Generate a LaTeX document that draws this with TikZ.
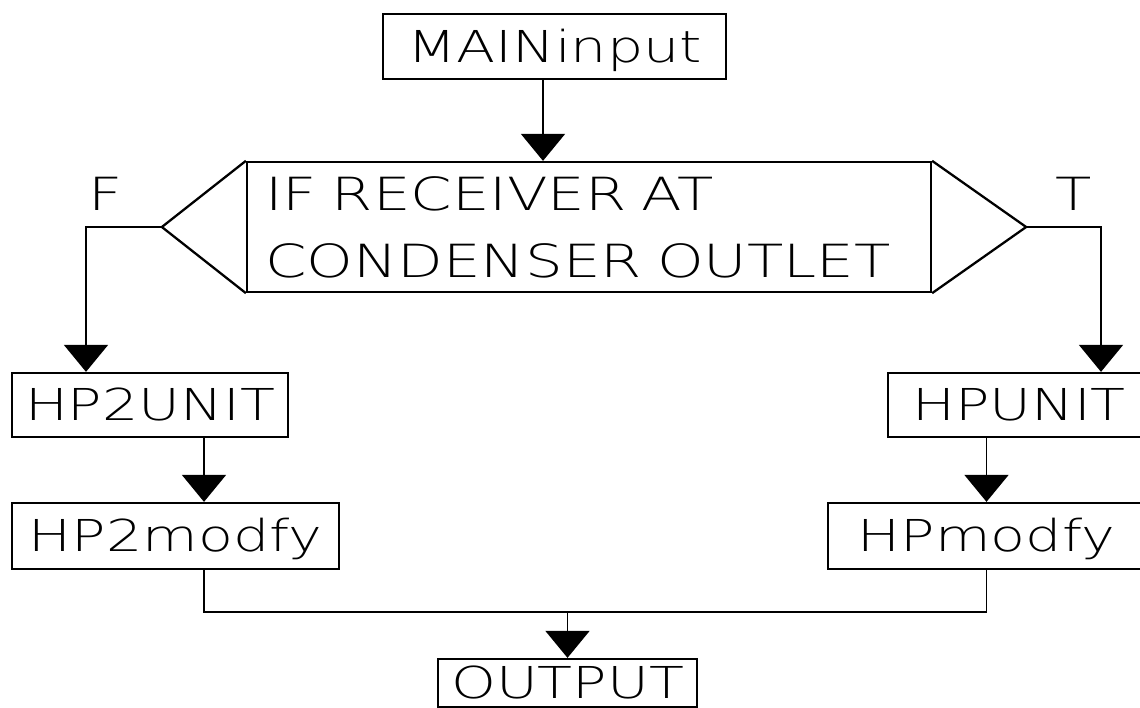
\documentclass[tikz,border=0pt]{standalone}
\usepackage{fontspec}
\setmainfont{DejaVuSans-ExtraLight.ttf}[FakeStretch=1.3]
\usetikzlibrary{arrows.meta, positioning, calc}

\begin{document}
\begin{tikzpicture}[
    block/.style={rectangle, draw, line width=1.3pt, inner sep=0pt, text height=18pt, text depth=0pt, font=\fontsize{25}{30}\selectfont},
    test/.style={rectangle, draw, line width=1.3pt, inner xsep=0.36cm, inner ysep=0pt, text width=12.96cm, minimum height=2.6cm, align=left, font=\fontsize{26}{38}\selectfont},
    arrow/.style={-{Triangle[width=0.88cm, length=0.54cm]}, line width=1pt},
    branch/.style={font=\fontsize{26}{30}\selectfont},
]
\useasboundingbox (0,0) rectangle (22.8,-14.14);

\node[block, minimum width=6.86cm, minimum height=1.3cm] (main) at (11.09, -0.93) {MAINinput};
\node[test] (cond) at (11.78, -4.54) {IF RECEIVER AT\\CONDENSER OUTLET};
\coordinate (ftip) at ([xshift=-1.68cm]cond.west);
\coordinate (ttip) at ([xshift=1.88cm]cond.east);
\draw[line width=1.3pt] (cond.north west) -- (ftip) -- (cond.south west);
\draw[line width=1.3pt] (cond.north east) -- (ttip) -- (cond.south east);
\node[branch] (fl) at (2.12, -3.87) {F};
\node[branch] (tl) at (21.48, -3.87) {T};

\node[block, minimum width=5.52cm, minimum height=1.28cm] (hp2unit) at (3.0, -8.10) {HP2UNIT};
\node[block, minimum width=6.54cm, minimum height=1.32cm] (hp2mod) at (3.51, -10.72) {HP2modfy};
\node[block, minimum width=5.24cm, minimum height=1.28cm] (hpunit) at (20.38, -8.10) {HPUNIT};
\node[block, minimum width=6.34cm, minimum height=1.32cm] (hpmod) at (19.73, -10.72) {HPmodfy};
\node[block, minimum width=5.18cm, minimum height=0.96cm] (output) at (11.35, -13.66) {OUTPUT};

\draw[arrow] ([xshift=-0.23cm]main.south) -- ([xshift=-0.23cm]main.south |- cond.north);
\draw[arrow] (ftip) -| ([xshift=-1.28cm]hp2unit.north);
\draw[arrow] (ttip) -| ([xshift=1.64cm]hpunit.north);
\draw[arrow] ([xshift=1.08cm]hp2unit.south) -- ([xshift=1.08cm]hp2unit.south |- hp2mod.north);
\draw[arrow] (hpunit.south -| hpmod.north) -- (hpmod.north);
\coordinate (merge) at ([yshift=-0.84cm]hpmod.south);
\draw[line width=1pt] ([xshift=0.57cm]hp2mod.south) |- (merge) -- (hpmod.south);
\draw[arrow] (output.north |- merge) -- (output.north);

\end{tikzpicture}
\end{document}
